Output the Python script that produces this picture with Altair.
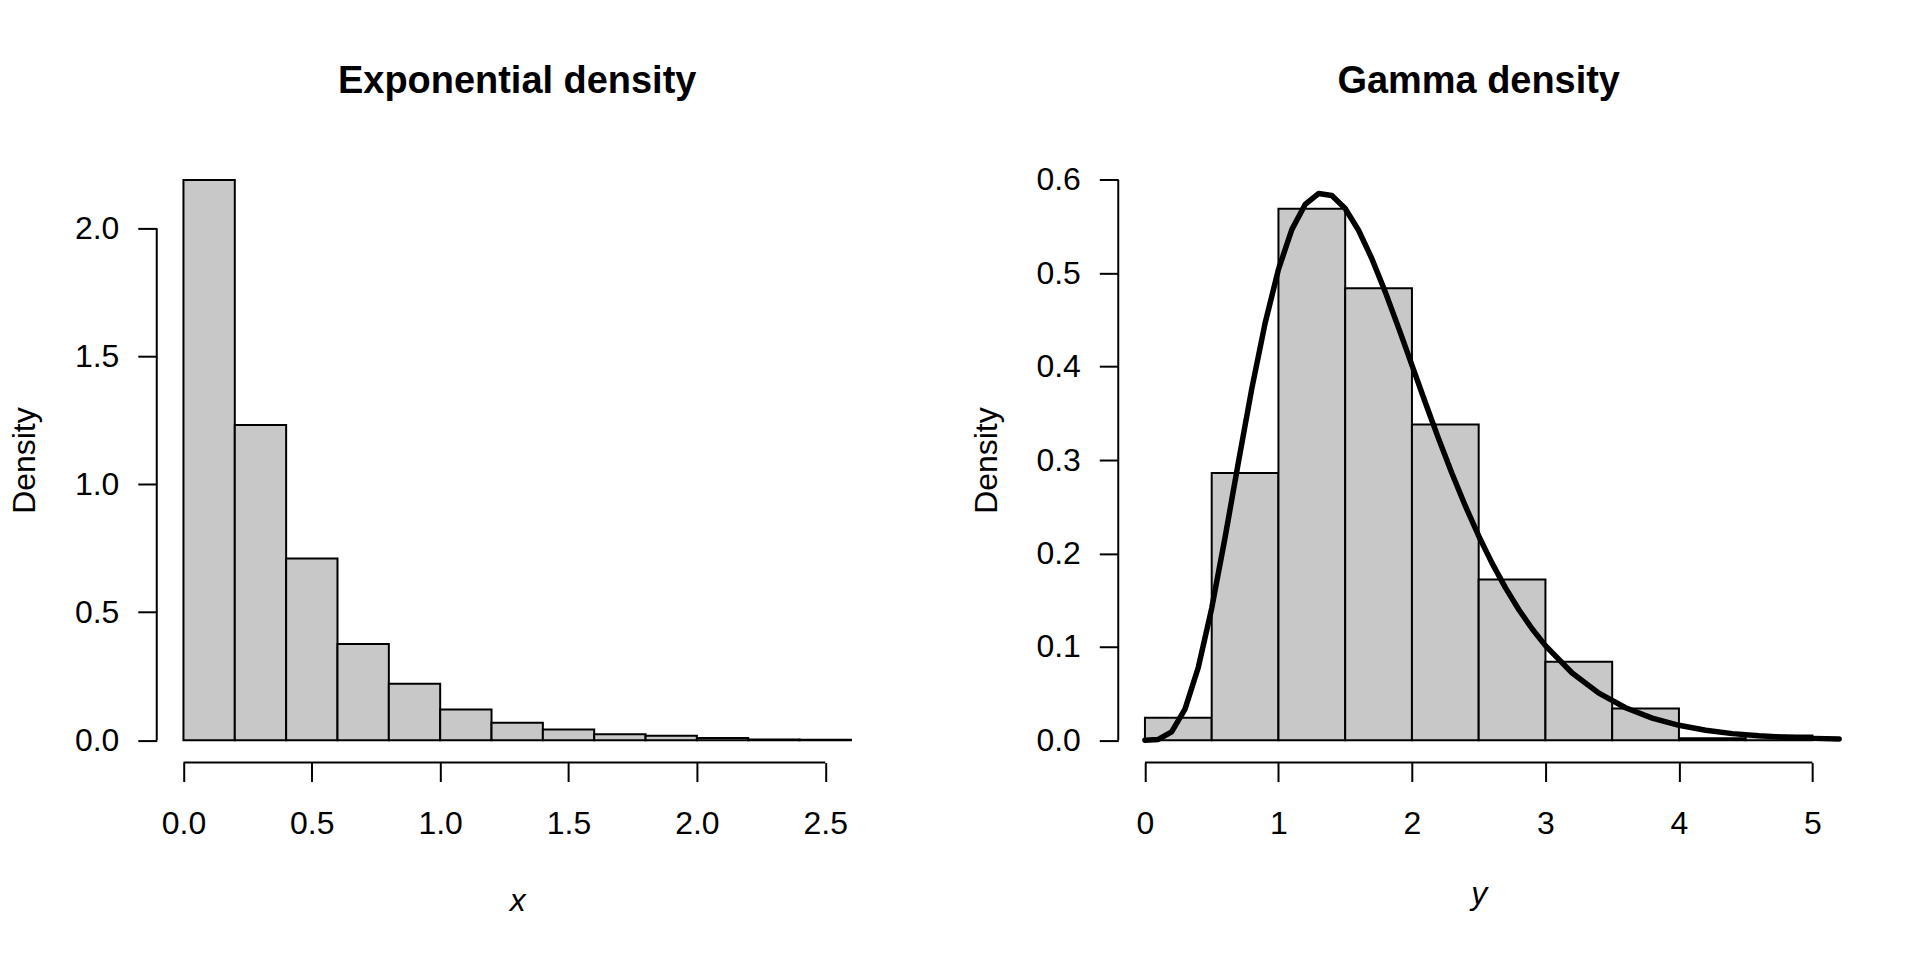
import altair as alt
import pandas as pd

# ---------------- data ----------------
exp_bin_start = [0.0, 0.2, 0.4, 0.6, 0.8, 1.0, 1.2, 1.4, 1.6, 1.8, 2.0, 2.2, 2.4]
exp_bin_end = [0.2, 0.4, 0.6, 0.8, 1.0, 1.2, 1.4, 1.6, 1.8, 2.0, 2.2, 2.4, 2.6]
exp_density = [2.189, 1.232, 0.710, 0.376, 0.220, 0.120, 0.068, 0.042, 0.023, 0.017, 0.008, 0.003, 0.0015]

gam_bin_start = [0.0, 0.5, 1.0, 1.5, 2.0, 2.5, 3.0, 3.5, 4.0, 4.5]
gam_bin_end = [0.5, 1.0, 1.5, 2.0, 2.5, 3.0, 3.5, 4.0, 4.5, 5.0]
gam_density = [0.024, 0.286, 0.569, 0.484, 0.338, 0.172, 0.084, 0.034, 0.002, 0.005]

curve_x = [0.0, 0.1, 0.2, 0.3, 0.4, 0.5, 0.6, 0.7, 0.8, 0.9, 1.0, 1.1, 1.2, 1.3, 1.4,
           1.5, 1.6, 1.7, 1.8, 1.9, 2.0, 2.1, 2.2, 2.3, 2.4, 2.5, 2.6, 2.7, 2.8, 2.9,
           3.0, 3.2, 3.4, 3.6, 3.8, 4.0, 4.2, 4.4, 4.6, 4.8, 5.0, 5.2]
curve_y = [0.0, 0.0008, 0.0089, 0.0333, 0.0781, 0.1412, 0.2169, 0.2977, 0.3762, 0.4465,
           0.5041, 0.5468, 0.5737, 0.5854, 0.5833, 0.5694, 0.5461, 0.5156, 0.4801, 0.4415,
           0.4016, 0.3616, 0.3227, 0.2855, 0.2508, 0.2187, 0.1896, 0.1633, 0.1399, 0.1193,
           0.1012, 0.0719, 0.0503, 0.0347, 0.0236, 0.0159, 0.0106, 0.0070, 0.0046, 0.0030,
           0.0019, 0.0012]

exp_x_ticks = [0.0, 0.5, 1.0, 1.5, 2.0, 2.5]
exp_y_ticks = [0.0, 0.5, 1.0, 1.5, 2.0]
gam_x_ticks = [0, 1, 2, 3, 4, 5]
gam_y_ticks = [0.0, 0.1, 0.2, 0.3, 0.4, 0.5, 0.6]

exp_x_domain = [-0.104, 2.704]
exp_y_domain = [-0.0876, 2.277]
gam_x_domain = [-0.2, 5.2]
gam_y_domain = [-0.024, 0.624]

# ---------------- styling ----------------
FONT = "Liberation Sans"
W, H = 722, 606
BAR_FILL = "#c8c8c8"


def x_axis(values, fmt, title, title_y):
    return alt.Axis(values=values, format=fmt, domain=False, grid=False,
                    ticks=True, tickSize=19, tickWidth=2, tickColor="black",
                    labelFont=FONT, labelFontSize=32, labelColor="black",
                    labelPadding=27, labelFlush=False, labelOverlap=False,
                    labelAngle=0,
                    title=title, titleFont=FONT, titleFontSize=32,
                    titleFontStyle="italic", titleFontWeight="normal",
                    titleColor="black", titleY=title_y, titleBaseline="middle")


def y_axis(values, fmt):
    return alt.Axis(values=values, format=fmt, domain=False, grid=False,
                    ticks=True, tickSize=19, tickWidth=2, tickColor="black",
                    labelFont=FONT, labelFontSize=32, labelColor="black",
                    labelPadding=19, labelFlush=False, labelOverlap=False,
                    labelAngle=0, labelBaseline="middle",
                    title="Density", titleFont=FONT, titleFontSize=32,
                    titleFontWeight="normal", titleColor="black",
                    titleX=-132, titleY=H / 2, titleAngle=270,
                    titleBaseline="middle", titleAlign="center")


def panel(title, starts, ends, dens, xd, yd, xt, yt, xfmt, yfmt, xtitle, title_y,
          curve=None):
    df = pd.DataFrame({"start": starts, "end": ends, "density": dens})
    xs = alt.Scale(domain=xd, nice=False, zero=False)
    ys = alt.Scale(domain=yd, nice=False, zero=False)
    bars = alt.Chart(df).mark_bar(fill=BAR_FILL, stroke="black", strokeWidth=2).encode(
        x=alt.X("start:Q", scale=xs, axis=x_axis(xt, xfmt, xtitle, title_y)),
        x2="end:Q",
        y=alt.Y("density:Q", scale=ys, axis=y_axis(yt, yfmt)),
        y2=alt.datum(0),
    )
    one = pd.DataFrame({"k": [0]})
    xline = alt.Chart(one).mark_rule(color="black", strokeWidth=2).encode(
        x=alt.datum(xt[0]), x2=alt.datum(xt[-1]), y=alt.value(H))
    yline = alt.Chart(one).mark_rule(color="black", strokeWidth=2).encode(
        y=alt.datum(yt[0]), y2=alt.datum(yt[-1]), x=alt.value(0))
    layers = [bars, xline, yline]
    if curve is not None:
        cdf = pd.DataFrame({"cx": curve[0], "cy": curve[1]})
        line = alt.Chart(cdf).mark_line(color="black", strokeWidth=5.5,
                                        strokeJoin="round", strokeCap="round").encode(
            x="cx:Q", y="cy:Q")
        layers.append(line)
    return alt.layer(*layers).properties(
        width=W, height=H,
        title=alt.TitleParams(title, font=FONT, fontSize=38, fontWeight="bold",
                              color="black", anchor="middle", offset=27,
                              baseline="alphabetic"),
    )


left = panel("Exponential density", exp_bin_start, exp_bin_end, exp_density,
             exp_x_domain, exp_y_domain, exp_x_ticks, exp_y_ticks, ".1f", ".1f", "x", 138)
right = panel("Gamma density", gam_bin_start, gam_bin_end, gam_density,
              gam_x_domain, gam_y_domain, gam_x_ticks, gam_y_ticks, "d", ".1f", "y", 131,
              curve=(curve_x, curve_y))

chart = alt.hconcat(left, right, spacing=241, bounds="flush").properties(
    autosize="pad",
    padding={"left": 9, "top": 62, "right": 78, "bottom": 43},
    background="white",
).configure_view(stroke=None)

chart.save("out.html", embed_options={"renderer": "svg", "actions": False})
